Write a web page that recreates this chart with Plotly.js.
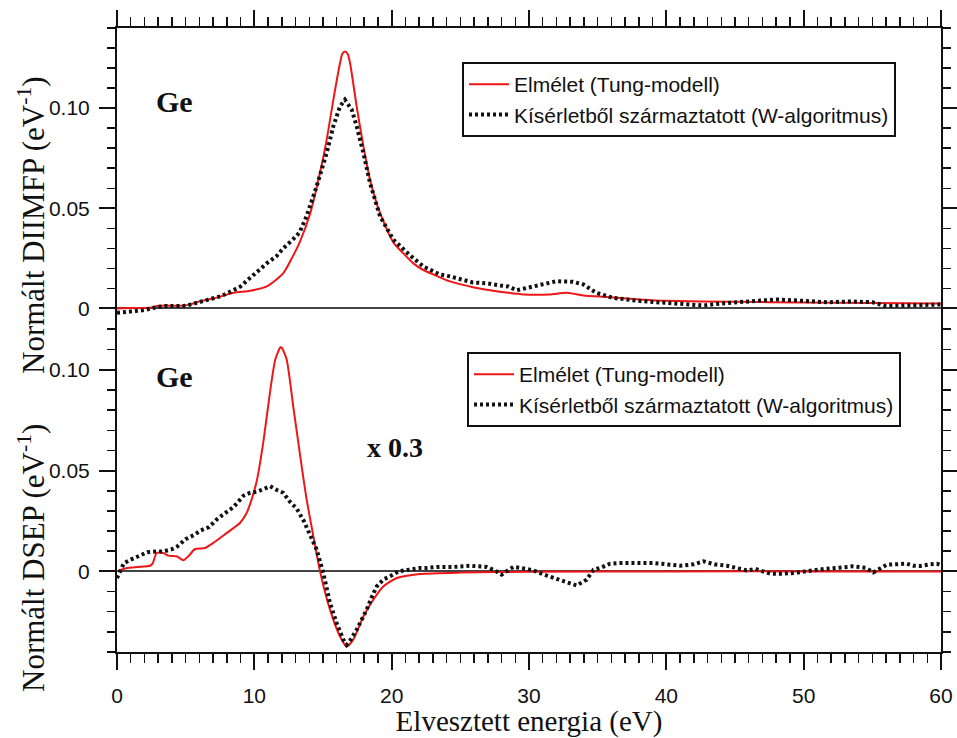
<!DOCTYPE html>
<html>
<head>
<meta charset="utf-8">
<script src="https://cdn.plot.ly/plotly-3.0.1.min.js"></script>
<style>html,body{margin:0;padding:0;background:#fff;}#chart{width:957px;height:738px;}</style>
</head>
<body>
<div id="chart"></div>
<script>
// ---- Data (energy loss in eV, normalized values in 1/eV) ----
const seriesNames = ["Elmélet (Tung-modell)", "Kísérletből származtatott (W-algoritmus)"];

// Top panel: DIIMFP, theory (Tung model)
const diimfpTheoryE = [0, 1, 2.4, 3.0, 3.5, 4.5, 5.2, 6.0, 7.2, 8.5, 9.7, 10.9, 12.1, 12.8, 13.3, 14.05, 14.78, 15.27, 15.75, 16.24, 16.4, 16.6, 16.8, 16.97, 17.45, 17.94, 18.42, 19.15, 20.12, 20.85, 21.58, 22.3, 23.03, 24.25, 26.0, 27.16, 28.5, 29.6, 31.5, 32.75, 33.95, 35.66, 38.08, 40.0, 45.0, 50.0, 55.0, 60.0];
const diimfpTheoryV = [0, 0.0002, 0.0003, 0.0013, 0.0015, 0.0013, 0.0018, 0.0035, 0.0053, 0.0078, 0.0088, 0.011, 0.0175, 0.026, 0.033, 0.047, 0.0677, 0.0843, 0.104, 0.1225, 0.127, 0.1283, 0.127, 0.1225, 0.1009, 0.081, 0.0643, 0.0477, 0.033, 0.0275, 0.0225, 0.0192, 0.017, 0.0135, 0.0105, 0.0091, 0.0078, 0.007, 0.007, 0.0078, 0.0065, 0.0057, 0.0045, 0.0038, 0.0033, 0.003, 0.0027, 0.0025];

// Top panel: DIIMFP, experiment-derived (W algorithm)
const diimfpExpE = [0, 0.5, 1.2, 2.0, 2.6, 3.4, 4.2, 5.0, 5.8, 6.8, 7.6, 8.5, 9.0, 9.7, 10.2, 10.9, 11.6, 12.1, 12.8, 13.3, 13.8, 14.54, 15.27, 15.75, 16.24, 16.6, 17.09, 17.45, 17.94, 18.42, 19.15, 20.12, 21.34, 22.3, 23.5, 24.25, 25.9, 27.0, 27.9, 28.5, 29.1, 30.0, 30.8, 32.0, 33.2, 33.95, 34.9, 36.1, 38.1, 39.8, 41.0, 42.7, 44.0, 45.6, 47.0, 48.0, 50.0, 51.7, 53.5, 55.0, 56.0, 57.5, 58.5, 60.0];
const diimfpExpV = [-0.0022, -0.0018, -0.0013, -0.0008, 0.0002, 0.0012, 0.0012, 0.0013, 0.0028, 0.0045, 0.0062, 0.0092, 0.011, 0.0153, 0.0185, 0.0225, 0.026, 0.0300, 0.0344, 0.038, 0.046, 0.061, 0.0777, 0.0909, 0.1009, 0.1042, 0.0993, 0.0909, 0.0777, 0.0627, 0.046, 0.0344, 0.0265, 0.021, 0.017, 0.016, 0.013, 0.0125, 0.0115, 0.011, 0.0091, 0.0105, 0.012, 0.0136, 0.0133, 0.012, 0.0078, 0.0053, 0.0037, 0.0028, 0.0025, 0.0015, 0.0025, 0.0031, 0.004, 0.0045, 0.0038, 0.0031, 0.0035, 0.0031, 0.0012, 0.0015, 0.0018, 0.002];

// Bottom panel: DSEP, theory (Tung model), scaled x0.3
const dsepTheoryE = [0, 0.73, 1.5, 2.4, 2.6, 2.89, 3.37, 3.74, 4.35, 4.83, 5.2, 5.68, 6.41, 7.01, 7.98, 8.95, 9.44, 9.8, 10.2, 10.68, 11.17, 11.53, 11.9, 12.0, 12.35, 12.87, 13.45, 13.8, 14.2, 14.8, 15.51, 16.24, 16.72, 17.2, 17.94, 18.66, 19.39, 20.37, 22.06, 25.0, 30.0, 40.0, 50.0, 60.0];
const dsepTheoryV = [0, 0.0017, 0.0022, 0.0028, 0.004, 0.0091, 0.0091, 0.0078, 0.0075, 0.0055, 0.0075, 0.0111, 0.0116, 0.0141, 0.019, 0.024, 0.029, 0.0356, 0.0456, 0.0654, 0.0903, 0.1052, 0.1112, 0.111, 0.1052, 0.080, 0.052, 0.036, 0.021, -0.0005, -0.019, -0.0323, -0.0373, -0.0339, -0.0224, -0.0141, -0.0075, -0.0033, -0.0013, -0.0006, -0.0002, 0, 0, 0];

// Bottom panel: DSEP, experiment-derived (W algorithm)
const dsepExpE = [0, 0.3, 0.5, 0.9, 1.5, 2.2, 2.8, 3.4, 4.0, 4.4, 5.0, 5.6, 6.1, 6.7, 7.3, 7.9, 8.5, 9.2, 9.7, 10.2, 10.7, 11.15, 11.6, 12.1, 12.6, 13.1, 13.6, 14.0, 14.3, 14.54, 15.02, 15.51, 15.99, 16.48, 16.72, 17.0, 17.45, 18.18, 18.6, 18.91, 19.4, 19.88, 20.5, 21.1, 22.06, 22.55, 23.28, 24.5, 25.7, 26.9, 27.5, 28.0, 28.5, 28.86, 29.6, 30.3, 31.3, 32.26, 33.0, 33.47, 34.2, 34.7, 35.3, 35.9, 36.8, 37.84, 39.05, 40.0, 41.0, 42.0, 42.7, 43.5, 44.4, 45.85, 46.5, 47.55, 48.4, 49.25, 50.0, 50.7, 51.5, 52.4, 53.6, 54.5, 55.07, 56.05, 56.8, 57.5, 58.0, 58.5, 59.2, 59.7, 60.0];
const dsepExpV = [-0.0033, 0.001, 0.004, 0.0055, 0.0075, 0.0095, 0.0098, 0.0099, 0.011, 0.0124, 0.016, 0.018, 0.0203, 0.022, 0.026, 0.029, 0.032, 0.0375, 0.039, 0.0395, 0.041, 0.0422, 0.0405, 0.039, 0.0345, 0.031, 0.025, 0.019, 0.0135, 0.0108, -0.0008, -0.0157, -0.0256, -0.0339, -0.0364, -0.034, -0.029, -0.019, -0.012, -0.0075, -0.004, -0.0025, 0, 0.0008, 0.0017, 0.0017, 0.0022, 0.0022, 0.0028, 0.0022, 0.0005, -0.0016, 0.0008, 0.0022, 0.0015, 0.0005, -0.0021, -0.0043, -0.0055, -0.007, -0.0041, 0.0008, 0.002, 0.0038, 0.0042, 0.0042, 0.0042, 0.0035, 0.0028, 0.0035, 0.005, 0.0035, 0.0028, 0.0005, 0.0012, -0.0011, -0.0012, -0.0008, 0, 0.0005, 0.0012, 0.0017, 0.0025, 0.0018, -0.0005, 0.0033, 0.0035, 0.0038, 0.0028, 0.0027, 0.0035, 0.0038, 0.003];

// Tick labels
const xTickVals = [0, 10, 20, 30, 40, 50, 60];
const xTickText = ["0", "10", "20", "30", "40", "50", "60"];
const yTickVals = [0, 0.05, 0.10];
const yTickText = ["0", "0.05", "0.10"];

// ---- Styling ----
const RED = "rgb(238,22,22)";
const BLACK = "#111";
const sans = "Liberation Sans, Arial, sans-serif";
const serif = "Liberation Serif, Times New Roman, serif";
const redLine = {color: RED, width: 2, shape: "spline", smoothing: 0.6};
const dotLine = {color: BLACK, width: 4, dash: "3px,3px"};

const traces = [
  {x: diimfpTheoryE, y: diimfpTheoryV, xaxis: "x", yaxis: "y", mode: "lines", name: seriesNames[0], line: redLine, legend: "legend"},
  {x: diimfpExpE, y: diimfpExpV, xaxis: "x", yaxis: "y", mode: "lines", name: seriesNames[1], line: dotLine, legend: "legend"},
  {x: dsepTheoryE, y: dsepTheoryV, xaxis: "x2", yaxis: "y2", mode: "lines", name: seriesNames[0], line: redLine, legend: "legend2"},
  {x: dsepExpE, y: dsepExpV, xaxis: "x2", yaxis: "y2", mode: "lines", name: seriesNames[1], line: dotLine, legend: "legend2"}
];

const L = 117, R = 16, T = 28, B = 86, W = 957, H = 738;
const PW = W - L - R, PH = H - T - B;
const px = v => (v - L) / PW;            // pixel x -> paper
const py = v => (H - B - v) / PH;        // pixel y -> paper
const split = py(329.5);

const xCommon = {
  range: [0, 60], tickmode: "array", tickvals: xTickVals, ticktext: xTickText,
  showline: true, linecolor: "#111", linewidth: 2, ticks: "outside", ticklen: 16, tickwidth: 2, tickcolor: "#111",
  minor: {tickmode: "linear", tick0: 0, dtick: 1, ticks: "outside", ticklen: 9, tickwidth: 1.5, tickcolor: "#111"},
  showgrid: false, zeroline: false, tickfont: {family: sans, size: 21, color: "#111"}
};
const yCommon = {
  tickmode: "array", tickvals: yTickVals, ticktext: yTickText,
  showline: true, linecolor: "#111", linewidth: 2, mirror: "ticks", ticks: "outside", ticklen: 16, tickwidth: 2, tickcolor: "#111",
  minor: {tickmode: "linear", tick0: 0, dtick: 0.01, ticks: "outside", ticklen: 8, tickwidth: 1.5, tickcolor: "#111"},
  showgrid: false, zeroline: true, zerolinecolor: "#444", zerolinewidth: 2,
  tickfont: {family: sans, size: 21, color: "#111"}, ticklabelstandoff: 5
};

const layout = {
  width: W, height: H,
  margin: {l: L, r: R, t: T, b: B},
  paper_bgcolor: "#fff", plot_bgcolor: "#fff",
  showlegend: true,
  xaxis: Object.assign({}, xCommon, {anchor: "y", side: "top", showticklabels: false}),
  xaxis2: Object.assign({}, xCommon, {anchor: "y2", side: "bottom", matches: "x", ticklabelstandoff: 8,
    title: {text: "Elvesztett energia (eV)", font: {family: serif, size: 29, color: "#111"}, standoff: 5}}),
  yaxis: Object.assign({}, yCommon, {domain: [split, 1], range: [-0.0105, 0.140]}),
  yaxis2: Object.assign({}, yCommon, {domain: [0, split], range: [-0.040, 0.120]}),
  legend: {x: px(462), y: py(62), xanchor: "left", yanchor: "top", bgcolor: "#fff", bordercolor: "#111", borderwidth: 2,
    font: {family: sans, size: 21, color: "#111"}, itemwidth: 40, tracegroupgap: 0},
  legend2: {x: px(467), y: py(352), xanchor: "left", yanchor: "top", bgcolor: "#fff", bordercolor: "#111", borderwidth: 2,
    font: {family: sans, size: 21, color: "#111"}, itemwidth: 40, tracegroupgap: 0},
  annotations: [
    {text: "Ge", xref: "paper", yref: "paper", x: px(174), y: py(101), xanchor: "center", yanchor: "middle", showarrow: false,
      font: {family: serif, size: 30, color: "#111", weight: "bold"}},
    {text: "Ge", xref: "paper", yref: "paper", x: px(174), y: py(376), xanchor: "center", yanchor: "middle", showarrow: false,
      font: {family: serif, size: 30, color: "#111", weight: "bold"}},
    {text: "x 0.3", xref: "paper", yref: "paper", x: px(395), y: py(447), xanchor: "center", yanchor: "middle", showarrow: false,
      font: {family: serif, size: 28, color: "#111", weight: "bold"}},
    {text: "Normált DIIMFP (eV<sup>-1</sup>)", xref: "paper", yref: "paper", x: px(31), y: py(225), xanchor: "center", yanchor: "middle",
      textangle: -90, showarrow: false, font: {family: serif, size: 31, color: "#111"}},
    {text: "Normált DSEP (eV<sup>-1</sup>)", xref: "paper", yref: "paper", x: px(31), y: py(558), xanchor: "center", yanchor: "middle",
      textangle: -90, showarrow: false, font: {family: serif, size: 31, color: "#111"}}
  ]
};

Plotly.newPlot("chart", traces, layout, {displayModeBar: false, staticPlot: true});
</script>
</body>
</html>
